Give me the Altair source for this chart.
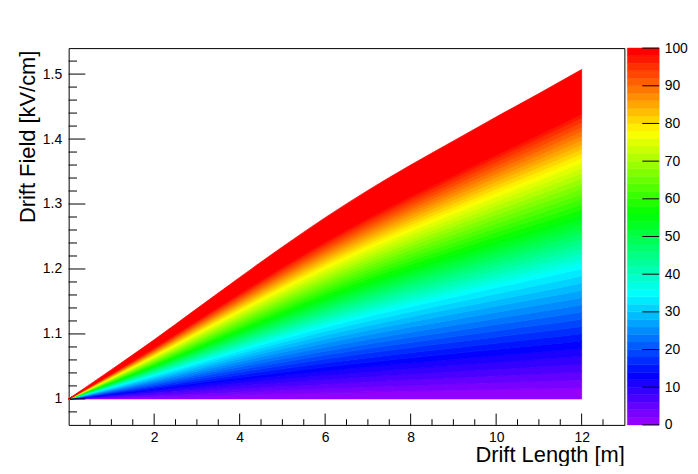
import colorsys
import numpy as np
import pandas as pd
import altair as alt

# ---- values ----
X_POS = [0, 1, 2, 3, 4, 5, 6, 7, 8, 9, 10, 11, 12]                 # drift length [m]
TOP_FIELD = [1.0, 1.045, 1.091, 1.139, 1.187, 1.234, 1.279, 1.321,
             1.360, 1.397, 1.434, 1.470, 1.507]                       # upper edge of the filled region [kV/cm]
BOTTOM_FIELD = 1.0                                                    # lower edge of the filled region
Z_ANCHOR = [0, 13, 34, 56, 77, 96, 100]                               # colour-scale value
FRAC_ANCHOR = [0.01, 0.165, 0.395, 0.56, 0.724, 0.853, 0.875]         # relative height of that contour

X_LABELS = [2, 4, 6, 8, 10, 12]
X_MINOR = [0.5, 1, 1.5, 2.5, 3, 3.5, 4.5, 5, 5.5, 6.5, 7, 7.5, 8.5, 9, 9.5,
           10.5, 11, 11.5, 12.5]
Y_LABELS = [1.0, 1.1, 1.2, 1.3, 1.4, 1.5]
Y_MINOR = [0.98, 1.02, 1.04, 1.06, 1.08, 1.12, 1.14, 1.16, 1.18, 1.22, 1.24,
           1.26, 1.28, 1.32, 1.34, 1.36, 1.38, 1.42, 1.44, 1.46, 1.48, 1.52]
Z_LABELS = [0, 10, 20, 30, 40, 50, 60, 70, 80, 90, 100]
N_BANDS = 50

# ---- ROOT "pretty" palette (50 colours violet -> red) ----
PALETTE = []
for i in range(N_BANDS):
    h = 280 - (i + 1) * 280 / N_BANDS
    r, g, b = colorsys.hls_to_rgb(h / 360.0, 0.5, 1.0)
    PALETTE.append('#%02x%02x%02x' % (round(r * 255), round(g * 255), round(b * 255)))

# ---- tables ----
rows = []
for k in range(N_BANDS):
    f_lo = 0.0 if k == 0 else float(np.interp(2 * k, Z_ANCHOR, FRAC_ANCHOR))
    f_hi = 1.0 if k == N_BANDS - 1 else float(np.interp(2 * k + 2, Z_ANCHOR, FRAC_ANCHOR))
    for x, t in zip(X_POS, TOP_FIELD):
        rows.append(dict(band=k, x=x,
                         y_lo=BOTTOM_FIELD + (t - BOTTOM_FIELD) * f_lo,
                         y_hi=BOTTOM_FIELD + (t - BOTTOM_FIELD) * f_hi))
df = pd.DataFrame(rows)
df_bar = pd.DataFrame({'band': list(range(N_BANDS)),
                       'z0': [100 * k / N_BANDS for k in range(N_BANDS)],
                       'z1': [100 * (k + 1) / N_BANDS for k in range(N_BANDS)]})

W, H = 559, 379
FONT = 'Liberation Sans'

x_scale = alt.Scale(domain=[0, 13], nice=False, zero=False)
y_scale = alt.Scale(domain=[0.96, 1.54], nice=False, zero=False)
z_scale = alt.Scale(domain=[0, 100], nice=False, zero=False)
col_scale = alt.Scale(domain=list(range(N_BANDS)), range=PALETTE)

x_axis = alt.Axis(values=X_LABELS, ticks=False, domain=False, grid=False,
                  labelFontSize=14, labelPadding=6,
                  title='Drift Length [m]', titleFontSize=22, titleFontWeight='normal',
                  titleAlign='right', titleAnchor='end', titleX=W, titleY=37,
                  titleBaseline='alphabetic')
y_axis = alt.Axis(values=Y_LABELS, format='.2~f', ticks=False, domain=False, grid=False,
                  labelFontSize=14, labelPadding=7,
                  title='Drift Field [kV/cm]', titleFontSize=22, titleFontWeight='normal',
                  titleAngle=270, titleAlign='right', titleBaseline='alphabetic',
                  titleX=-34, titleY=2)
z_axis = alt.Axis(orient='right', offset=35, values=Z_LABELS, ticks=False, domain=False,
                  grid=False, labelFontSize=14, labelPadding=5, title=None)

area = alt.Chart(df).mark_area(interpolate='monotone', strokeWidth=0.8).encode(
    x=alt.X('x:Q', scale=x_scale, axis=x_axis),
    y=alt.Y('y_lo:Q', scale=y_scale, axis=y_axis),
    y2='y_hi:Q',
    fill=alt.Fill('band:O', scale=col_scale, legend=None),
    stroke=alt.Stroke('band:O', scale=col_scale, legend=None),
)

xmaj = alt.Chart(pd.DataFrame({'x': X_LABELS})).mark_rule(color='black').encode(
    x=alt.X('x:Q', scale=x_scale, axis=x_axis), y=alt.value(H), y2=alt.value(H - 11.4))
xmin = alt.Chart(pd.DataFrame({'x': X_MINOR})).mark_rule(color='black').encode(
    x=alt.X('x:Q', scale=x_scale, axis=x_axis), y=alt.value(H), y2=alt.value(H - 5.7))
ymaj = alt.Chart(pd.DataFrame({'y': Y_LABELS})).mark_rule(color='black').encode(
    y=alt.Y('y:Q', scale=y_scale, axis=y_axis), x=alt.value(0), x2=alt.value(16.8))
ymin = alt.Chart(pd.DataFrame({'y': Y_MINOR})).mark_rule(color='black').encode(
    y=alt.Y('y:Q', scale=y_scale, axis=y_axis), x=alt.value(0), x2=alt.value(8.4))

main = alt.layer(area, xmaj, xmin, ymaj, ymin)

bar = alt.Chart(df_bar).mark_rect(strokeWidth=0.5).encode(
    y=alt.Y('z0:Q', scale=z_scale, axis=z_axis),
    y2='z1:Q',
    x=alt.value(W + 3), x2=alt.value(W + 35),
    fill=alt.Fill('band:O', scale=col_scale, legend=None),
    stroke=alt.Stroke('band:O', scale=col_scale, legend=None),
)
bar_ticks = alt.Chart(pd.DataFrame({'z0': Z_LABELS})).mark_rule(color='black').encode(
    y=alt.Y('z0:Q', scale=z_scale, axis=z_axis),
    x=alt.value(W + 18), x2=alt.value(W + 35))
cbar = alt.layer(bar, bar_ticks)

chart = alt.layer(main, cbar).resolve_scale(y='independent').properties(
    width=W, height=H,
    background='white',
    autosize=alt.AutoSizeParams(type='none'),
    padding={'left': 61, 'top': 39, 'right': 66, 'bottom': 40},
).configure_view(stroke='black', strokeWidth=1).configure_axis(
    labelFont=FONT, titleFont=FONT, labelColor='black', titleColor='black'
)

chart.save('out.html', embed_options={'renderer': 'svg', 'actions': False})
